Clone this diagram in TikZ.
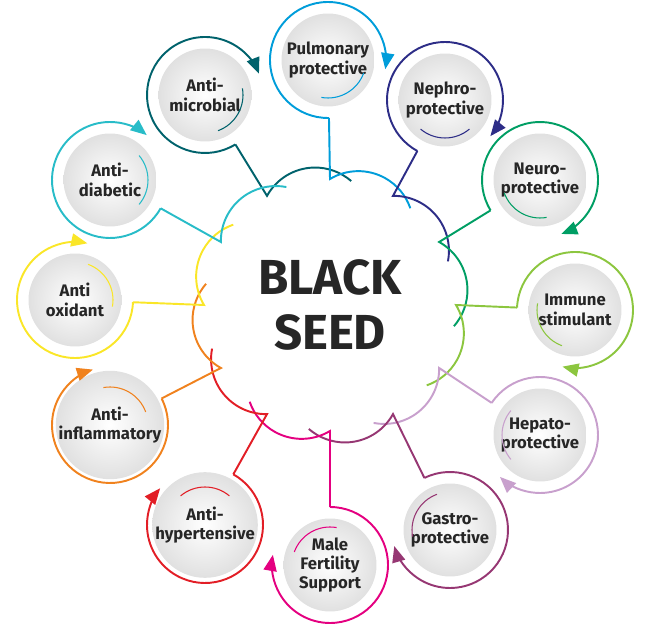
\documentclass[tikz,border=0pt]{standalone}
\usepackage{fontspec}
\setmainfont{Fira Sans}
\usetikzlibrary{positioning,calc}
\usetikzlibrary{arrows}
\definecolor{cMicro}{RGB}{0,98,108}
\definecolor{cPulmo}{RGB}{0,157,218}
\definecolor{cNephro}{RGB}{45,45,135}
\definecolor{cNeuro}{RGB}{0,158,100}
\definecolor{cImmune}{RGB}{140,198,63}
\definecolor{cHepato}{RGB}{200,160,205}
\definecolor{cGastro}{RGB}{150,55,115}
\definecolor{cMale}{RGB}{228,0,128}
\definecolor{cHyper}{RGB}{226,30,38}
\definecolor{cInflam}{RGB}{240,130,30}
\definecolor{cOxi}{RGB}{250,230,40}
\definecolor{cDiab}{RGB}{40,188,200}

\begin{document}
\begin{tikzpicture}[x=0.02cm, y=0.02cm,
  disc/.style={circle, minimum size=1.86cm, inner sep=0pt, align=center,
    shading=radial, inner color=white, outer color=black!12,
    font=\fontsize{9.5}{11}\selectfont\bfseries, text=black!85},
  ring/.style={line width=1.1pt}]
\useasboundingbox (0,0) rectangle (656,632);
\coordinate (C) at (330,327);
\node[align=center, font=\fontsize{28}{31}\selectfont\bfseries, text=black!85] (title) at (C) {BLACK\\SEED};

\foreach \x/\y/\psi/\col/\txt/\name in {
  205/537/120/cMicro/{Anti-\\microbial}/micro,
  328/572/90/cPulmo/{Pulmonary\\protective}/pulmo,
  445/532/60/cNephro/{Nephro-\\protective}/nephro,
  540/452/30/cNeuro/{Neuro-\\protective}/neuro,
  575/322/0/cImmune/{Immune\\stimulant}/immune,
  540/197/-30/cHepato/{Hepato-\\protective}/hepato,
  450/102/-60/cGastro/{Gastro-\\protective}/gastro,
  330/67/-90/cMale/{Male\\Fertility\\Support}/male,
  205/107/-120/cHyper/{Anti-\\hypertensive}/hyper,
  110/207/-150/cInflam/{Anti-\\inflammatory}/inflam,
  75/332/180/cOxi/{Anti\\oxidant}/oxi,
  110/452/150/cDiab/{Anti-\\diabetic}/diab}
{
  % satellite disc and its rings
  \node[disc] (\name) at (\x,\y) {\txt};
  \coordinate (\name-base) at ($(C)+(\psi:126)$);
  \draw[ring, \col, -triangle 45] let \p1=($(\name-base)-(\name)$), \n1={atan2(\y1,\x1)} in
    ($(\name)+(\n1:58)$) coordinate (\name-foot) arc[start angle=\n1, delta angle=-280, radius=58];
  \draw[\col, line width=0.6pt] ($(\name)+(\psi+250:38)$) arc[start angle=\psi+250, delta angle=-80, radius=38];
  % connector and scallop
  \draw[ring, \col] (\name-foot) -- (\name-base)
    arc[start angle=\psi+31, end angle=\psi-71, radius=55];
}
\end{tikzpicture}
\end{document}
